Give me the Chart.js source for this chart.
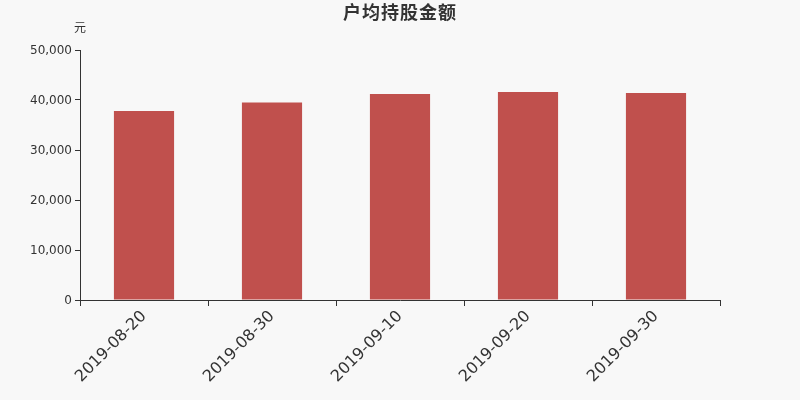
<!DOCTYPE html>
<html>
<head>
<meta charset="utf-8">
<script src="https://cdn.jsdelivr.net/npm/chart.js@4/dist/chart.umd.min.js"></script>
<style>
  html, body { margin: 0; padding: 0; background: #f8f8f8; }
  #wrap { width: 800px; height: 400px; }
</style>
</head>
<body>
<div id="wrap"><canvas id="chart"></canvas></div>
<script>
const categories = ['2019-08-20', '2019-08-30', '2019-09-10', '2019-09-20', '2019-09-30'];
const amounts = [37800, 39500, 41200, 41600, 41400];
const yTicks = [0, 10000, 20000, 30000, 40000, 50000];

const titleText = '户均持股金额';
const unitText = '元';

// title and unit label drawn at fixed spots
const labelsPlugin = {
    id: 'labels',
    afterDraw(chart) {
        const ctx = chart.ctx;
        ctx.save();
        ctx.fillStyle = '#333';
        ctx.textAlign = 'center';
        ctx.textBaseline = 'middle';
        ctx.font = 'bold 18px "DejaVu Sans", "Noto Sans CJK SC", sans-serif';
        ctx.letterSpacing = '1px';
        ctx.fillText(titleText, 400, 14);
        ctx.letterSpacing = '0px';
        ctx.font = '12px "DejaVu Sans", "Noto Sans CJK SC", sans-serif';
        ctx.fillText(unitText, 80, 29);
        ctx.restore();
    }
};

new Chart(document.getElementById('chart'), {
    type: 'bar',
    data: {
        labels: categories,
        datasets: [{
            label: titleText,
            data: amounts,
            backgroundColor: '#c0504d',
            barPercentage: 0.47,
            categoryPercentage: 1
        }]
    },
    options: {
        responsive: true,
        maintainAspectRatio: false,
        animation: false,
        layout: { padding: { top: 50, right: 80, left: 0, bottom: 0 } },
        plugins: {
            legend: { display: false },
            title: { display: false },
            tooltip: { enabled: false }
        },
        scales: {
            x: {
                border: { color: '#333', width: 1 },
                grid: { display: true, drawOnChartArea: false, drawTicks: true, tickLength: 6, color: '#333', offset: true },
                ticks: {
                    color: '#333',
                    font: { family: 'DejaVu Sans', size: 16 },
                    minRotation: 45,
                    maxRotation: 45,
                    padding: 1
                },
                afterFit(scale) { scale.height = 100; }
            },
            y: {
                min: 0,
                max: 50000,
                border: { color: '#333', width: 1 },
                grid: { display: true, drawOnChartArea: false, drawTicks: true, tickLength: 5, color: '#333' },
                afterBuildTicks(scale) { scale.ticks = yTicks.map(v => ({ value: v })); },
                ticks: {
                    color: '#333',
                    font: { family: 'DejaVu Sans', size: 12 },
                    padding: 3,
                    labelOffset: 1,
                    callback: v => v.toLocaleString('en-US')
                },
                afterFit(scale) { scale.width = 80; }
            }
        }
    },
    plugins: [labelsPlugin]
});
</script>
</body>
</html>
